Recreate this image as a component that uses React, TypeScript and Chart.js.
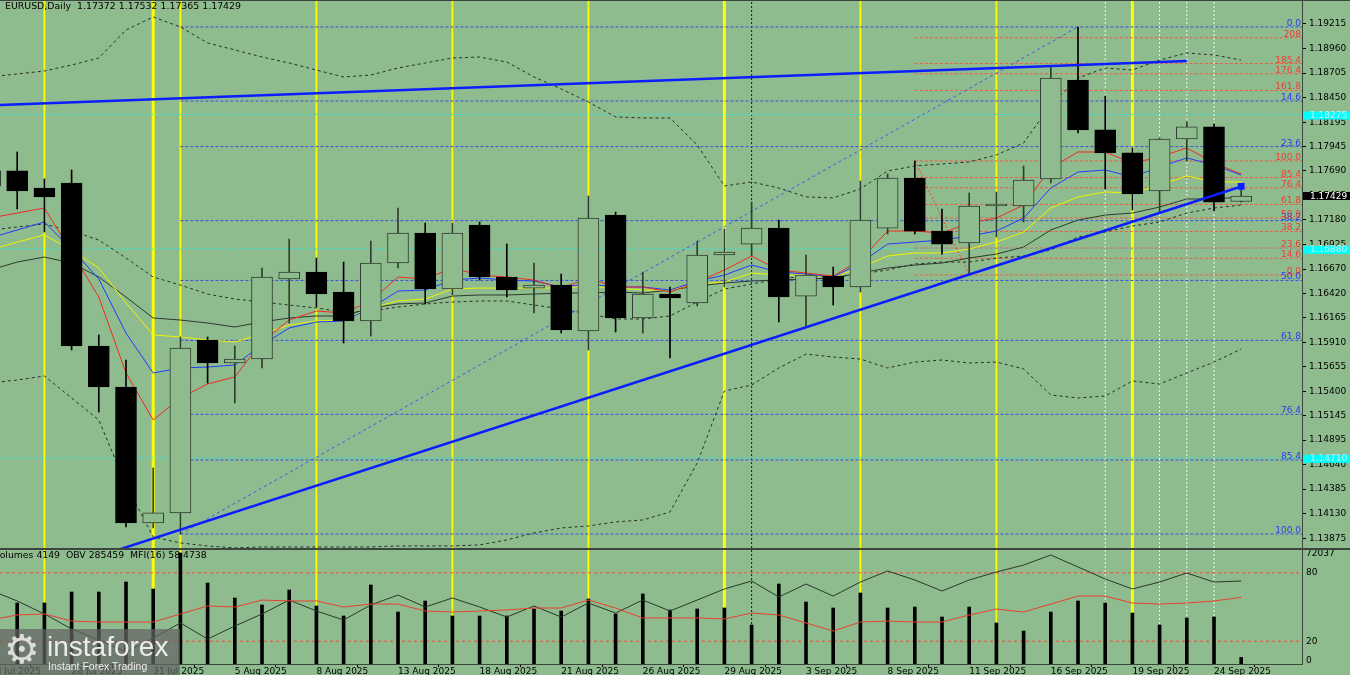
import { useEffect, useRef } from 'react';
import { Chart, registerables } from 'chart.js';

Chart.register(...registerables);

// ---------- data ----------
const dates = [
  '23 Jul 2025', '24 Jul 2025', '25 Jul 2025', '28 Jul 2025', '29 Jul 2025', '30 Jul 2025', '31 Jul 2025',
  '1 Aug 2025', '4 Aug 2025', '5 Aug 2025', '6 Aug 2025', '7 Aug 2025', '8 Aug 2025', '11 Aug 2025',
  '12 Aug 2025', '13 Aug 2025', '14 Aug 2025', '15 Aug 2025', '18 Aug 2025', '19 Aug 2025', '20 Aug 2025',
  '21 Aug 2025', '22 Aug 2025', '25 Aug 2025', '26 Aug 2025', '27 Aug 2025', '28 Aug 2025', '29 Aug 2025',
  '1 Sep 2025', '2 Sep 2025', '3 Sep 2025', '4 Sep 2025', '5 Sep 2025', '8 Sep 2025', '9 Sep 2025',
  '10 Sep 2025', '11 Sep 2025', '12 Sep 2025', '15 Sep 2025', '16 Sep 2025', '17 Sep 2025', '18 Sep 2025',
  '19 Sep 2025', '22 Sep 2025', '23 Sep 2025', '24 Sep 2025', '25 Sep 2025',
];

const opens = [
  1.17689, 1.17689, 1.17512, 1.17564, 1.15871, 1.15446, 1.14034, 1.14138, 1.15934, 1.15695,
  1.15736, 1.16567, 1.16639, 1.16432, 1.16131, 1.16733, 1.17044, 1.16463, 1.17127, 1.16588,
  1.16473, 1.16504, 1.16027, 1.17231, 1.16162, 1.16411, 1.16318, 1.16816, 1.16930, 1.17096,
  1.16390, 1.16598, 1.16484, 1.17096, 1.17616, 1.17065, 1.16941, 1.17325, 1.17325, 1.17606,
  1.18633, 1.18115, 1.17876, 1.17481, 1.18021, 1.18146, 1.17372,
];
const highs = [
  1.17751, 1.17886, 1.17606, 1.17699, 1.15986, 1.15726, 1.14605, 1.15965, 1.15965, 1.15871,
  1.16681, 1.16982, 1.16785, 1.16743, 1.16961, 1.17304, 1.17148, 1.17148, 1.17159, 1.16930,
  1.16733, 1.16619, 1.17429, 1.17262, 1.16639, 1.16484, 1.16961, 1.17086, 1.17366, 1.17179,
  1.16816, 1.16691, 1.17585, 1.17658, 1.17793, 1.17294, 1.17460, 1.17471, 1.17741, 1.18779,
  1.19184, 1.18467, 1.17928, 1.18030, 1.18198, 1.18177, 1.17532,
];
const lows = [
  1.17492, 1.17294, 1.17055, 1.15830, 1.15186, 1.13993, 1.13982, 1.13919, 1.15487, 1.15280,
  1.15643, 1.16110, 1.16276, 1.15903, 1.15975, 1.16681, 1.16308, 1.16401, 1.16556, 1.16380,
  1.16214, 1.16006, 1.15830, 1.16017, 1.16006, 1.15747, 1.16287, 1.16484, 1.16806, 1.16121,
  1.16069, 1.16297, 1.16432, 1.17034, 1.17034, 1.16826, 1.16608, 1.17003, 1.17159, 1.17564,
  1.18083, 1.17502, 1.17283, 1.17252, 1.17793, 1.17273, 1.17365,
];
const closes = [
  1.17533, 1.17481, 1.17419, 1.15871, 1.15446, 1.14034, 1.14138, 1.15851, 1.15695, 1.15736,
  1.16588, 1.16639, 1.16411, 1.16131, 1.16733, 1.17044, 1.16463, 1.17044, 1.16588, 1.16453,
  1.16504, 1.16038, 1.17200, 1.16162, 1.16411, 1.16370, 1.16816, 1.16847, 1.17096, 1.16380,
  1.16608, 1.16484, 1.17179, 1.17616, 1.17065, 1.16930, 1.17325, 1.17346, 1.17595, 1.18654,
  1.18115, 1.17876, 1.17450, 1.18021, 1.18146, 1.17366, 1.17429,
];

const maRed = [
  1.17200, 1.17252, 1.17304, 1.16847, 1.16380, 1.15591, 1.15103, 1.15332, 1.15477, 1.15550,
  1.15913, 1.16141, 1.16235, 1.16214, 1.16339, 1.16588, 1.16567, 1.16681, 1.16608, 1.16588,
  1.16556, 1.16473, 1.16577, 1.16484, 1.16484, 1.16432, 1.16536, 1.16660, 1.16806, 1.16660,
  1.16629, 1.16598, 1.16764, 1.17065, 1.17065, 1.17044, 1.17148, 1.17200, 1.17335, 1.17720,
  1.17886, 1.17886, 1.17772, 1.17834, 1.17928, 1.17772, 1.17658,
];
const maBlue = [
  1.16992, 1.17076, 1.17159, 1.16878, 1.16567, 1.16006, 1.15591, 1.15643, 1.15653, 1.15674,
  1.15882, 1.16058, 1.16121, 1.16131, 1.16266, 1.16442, 1.16453, 1.16556, 1.16577, 1.16556,
  1.16546, 1.16484, 1.16515, 1.16484, 1.16484, 1.16453, 1.16546, 1.16608, 1.16712, 1.16639,
  1.16619, 1.16588, 1.16733, 1.16930, 1.16951, 1.16972, 1.17013, 1.17065, 1.17200, 1.17512,
  1.17678, 1.17699, 1.17627, 1.17730, 1.17824, 1.17751, 1.17647,
];
const maYellow = [
  1.16868, 1.16951, 1.17024, 1.16868, 1.16681, 1.16318, 1.15986, 1.15965, 1.15934, 1.15913,
  1.15996, 1.16089, 1.16131, 1.16141, 1.16266, 1.16339, 1.16359, 1.16463, 1.16473, 1.16473,
  1.16473, 1.16473, 1.16494, 1.16473, 1.16453, 1.16453, 1.16515, 1.16536, 1.16629, 1.16608,
  1.16608, 1.16588, 1.16681, 1.16806, 1.16837, 1.16837, 1.16878, 1.16951, 1.17055, 1.17304,
  1.17419, 1.17471, 1.17460, 1.17543, 1.17637, 1.17575, 1.17575,
];
const maGray = [
  1.16660, 1.16743, 1.16795, 1.16733, 1.16588, 1.16380, 1.16162, 1.16141, 1.16110, 1.16069,
  1.16121, 1.16162, 1.16183, 1.16183, 1.16266, 1.16308, 1.16318, 1.16390, 1.16401, 1.16401,
  1.16411, 1.16421, 1.16421, 1.16432, 1.16421, 1.16453, 1.16494, 1.16525, 1.16546, 1.16556,
  1.16567, 1.16577, 1.16629, 1.16681, 1.16712, 1.16733, 1.16785, 1.16826, 1.16899, 1.17076,
  1.17179, 1.17231, 1.17252, 1.17314, 1.17398, 1.17398, 1.17419,
];
const bandUpper = [
  1.18665, 1.18696, 1.18727, 1.18789, 1.18862, 1.19153, 1.19288, 1.19184, 1.19018, 1.18945,
  1.18872, 1.18810, 1.18737, 1.18665, 1.18685, 1.18758, 1.18810, 1.18862, 1.18872, 1.18820,
  1.18665, 1.18540, 1.18405, 1.18250, 1.18239, 1.18239, 1.17959, 1.17533, 1.17575, 1.17512,
  1.17419, 1.17409, 1.17502, 1.17689, 1.17741, 1.17762, 1.17782, 1.17855, 1.17980, 1.18374,
  1.18654, 1.18758, 1.18737, 1.18841, 1.18914, 1.18893, 1.18841,
];
const bandMiddle = [
  1.17076, 1.17107, 1.17138, 1.17065, 1.16972, 1.16785, 1.16588, 1.16504, 1.16411, 1.16359,
  1.16328, 1.16297, 1.16266, 1.16224, 1.16235, 1.16276, 1.16308, 1.16328, 1.16339, 1.16339,
  1.16297, 1.16256, 1.16204, 1.16152, 1.16152, 1.16183, 1.16328, 1.16463, 1.16515, 1.16567,
  1.16598, 1.16588, 1.16619, 1.16660, 1.16723, 1.16743, 1.16743, 1.16785, 1.16806, 1.16868,
  1.17003, 1.17055, 1.17117, 1.17159, 1.17252, 1.17304, 1.17335,
];
const bandLower = [
  1.15487, 1.15518, 1.15560, 1.15332, 1.15103, 1.14428, 1.13889, 1.13827, 1.13795, 1.13775,
  1.13785, 1.13785, 1.13785, 1.13785, 1.13785, 1.13795, 1.13795, 1.13795, 1.13806, 1.13858,
  1.13930, 1.13982, 1.14003, 1.14045, 1.14065, 1.14148, 1.14657, 1.15404, 1.15466, 1.15643,
  1.15788, 1.15757, 1.15736, 1.15643, 1.15705, 1.15726, 1.15695, 1.15705, 1.15633, 1.15363,
  1.15332, 1.15352, 1.15508, 1.15477, 1.15591, 1.15705, 1.15840,
];

const volumes = [
  38000, 38550, 38550, 45500, 45500, 51820, 47400, 70150, 51190, 41710,
  37290, 46770, 36660, 30340, 49930, 32860, 39820, 30340, 30340, 30340,
  34760, 33500, 41080, 31600, 44240, 34130, 34760, 35390, 24650, 50560,
  39180, 35390, 44870, 35390, 36020, 29700, 36020, 25910, 20860, 32860,
  39820, 38550, 32230, 24650, 29070, 29700, 4149,
];
const obvLine = [
  64.9, 55.3, 43.9, 30.7, 21.1, 10.5, 22.8, 36.0, 21.9, 33.3,
  43.9, 56.1, 46.5, 38.6, 51.8, 60.5, 50.0, 57.9, 50.0, 41.2,
  50.9, 41.2, 53.5, 44.7, 56.1, 46.5, 56.1, 65.8, 72.8, 58.8,
  70.2, 59.6, 71.9, 81.6, 73.7, 64.0, 73.7, 80.7, 86.8, 95.6,
  85.1, 74.6, 65.8, 71.9, 79.8, 71.9, 72.8,
];
const mfiLine = [
  38.6, 43.0, 43.9, 37.7, 36.8, 36.8, 36.8, 43.9, 50.9, 50.0,
  56.1, 55.3, 55.3, 50.0, 52.6, 52.6, 46.5, 45.6, 46.5, 47.4,
  49.1, 49.1, 56.1, 49.1, 40.4, 40.4, 40.4, 39.5, 44.7, 43.0,
  36.0, 28.9, 36.8, 37.7, 36.8, 36.8, 43.0, 48.2, 45.6, 52.6,
  59.6, 59.6, 53.5, 52.6, 53.5, 55.3, 58.47,
];
const obvValue = 285459;
const mfiValue = 58.4738;

const priceTicks = [
  1.19215, 1.18960, 1.18705, 1.18450, 1.18195, 1.17945, 1.17690, 1.17435, 1.17180, 1.16925, 1.16670,
  1.16420, 1.16165, 1.15910, 1.15655, 1.15400, 1.15145, 1.14895, 1.14640, 1.14385, 1.14130, 1.13875,
];
const dateTickPositions = [0, 3, 6, 9, 12, 15, 18, 21, 24, 27, 30, 33, 36, 39, 42, 45];
const indicatorTicks = [2.6, 20, 80, 96.5];
const indicatorTickLabels = ['0', '20', '80', '72037'];
const indicatorLevels = [80, 20];

const blueFibLevels = [1.19184, 1.18415, 1.17942, 1.17173, 1.16552, 1.15930, 1.15162, 1.14688, 1.13919];
const blueFibLabels = ['0.0', '14.6', '23.6', '38.2', '50.0', '61.8', '76.4', '85.4', '100.0'];
const redFibLevels = [1.16609, 1.16782, 1.16888, 1.17061, 1.17201, 1.17341, 1.17514, 1.17620, 1.17793, 1.18525, 1.18698, 1.18804, 1.19072];
const redFibLabels = ['0.0', '14.6', '23.6', '38.2', '50.0', '61.8', '76.4', '85.4', '100.0', '161.8', '176.4', '185.4', '208'];
const blueFibStart = 7;
const redFibStart = 34;
const markedLevels = [1.18275, 1.16880, 1.14710];

const yellowThinAt = [2, 7, 12, 17, 22, 32, 37];
const yellowThickAt = [6, 27, 42];
const blackDottedAt = [28];
const whiteDottedAt = [41, 43, 44, 45];

const upperTrend = [{ x: 0, y: 1.18370 }, { x: 44, y: 1.18831 }];
const lowerTrend = [{ x: 4, y: 1.13690 }, { x: 46, y: 1.17528 }];
const blueFibDiagonal = [{ x: 7, y: 1.13919 }, { x: 40, y: 1.19184 }];
const redFibDiagonal = [{ x: 34, y: 1.17793 }, { x: 36, y: 1.16609 }];

// ---------- styling ----------
const BG = '#8fbc8f';
const FONT = 'DejaVu Sans';
const FRAME = '#3c463c';
const X_MIN = 0.3676;
const X_MAX = 48.2353;
const Y_MIN = 1.13774;
const Y_MAX = 1.19464;

Chart.defaults.font.family = FONT;
Chart.defaults.font.size = 9;
Chart.defaults.color = '#000';

const lineDs = (data: any[], color: string, width: number, order: number, dash: number[] = [], extra: any = {}) => ({
  type: 'line',
  data,
  borderColor: color,
  backgroundColor: color,
  borderWidth: width,
  borderDash: dash,
  pointRadius: 0,
  pointHitRadius: 0,
  pointHoverRadius: 0,
  tension: 0,
  fill: false,
  order,
  ...extra,
});
const seriesDs = (values: number[], color: string, width: number, order: number, dash: number[] = [], extra: any = {}) =>
  lineDs(values.map((v, p) => ({ x: p, y: v })), color, width, order, dash, extra);

const verticals = (lo: number, hi: number, extra: any = {}) => [
  ...yellowThinAt.map((p) => lineDs([{ x: p, y: lo }, { x: p, y: hi }], '#ffff00', 1.7, 20, [], extra)),
  ...yellowThickAt.map((p) => lineDs([{ x: p, y: lo }, { x: p, y: hi }], '#ffff00', 3, 20, [], extra)),
  ...blackDottedAt.map((p) => lineDs([{ x: p, y: lo }, { x: p, y: hi }], '#1a1a1a', 1, 20, [2, 2], extra)),
  ...whiteDottedAt.map((p) => lineDs([{ x: p, y: lo }, { x: p, y: hi }], '#f4f4f4', 1, 20, [2, 2], extra)),
];

const last = closes.length - 1;
const headerText = `EURUSD,Daily  ${opens[last].toFixed(5)} ${highs[last].toFixed(5)} ${lows[last].toFixed(5)} ${closes[last].toFixed(5)}`;
const indicatorHeader = `Volumes ${volumes[last]}  OBV ${obvValue}  MFI(16) ${mfiValue}`;

const priceOverlay = {
  id: 'priceOverlay',
  afterDatasetsDraw(chart: any) {
    const { ctx, chartArea, scales } = chart;
    const ys = scales.y;
    ctx.save();
    ctx.font = `9px "${FONT}"`;
    ctx.textAlign = 'right';
    ctx.textBaseline = 'alphabetic';
    blueFibLevels.forEach((lv, k) => {
      ctx.fillStyle = '#2a3cf0';
      ctx.fillText(blueFibLabels[k], chartArea.right - 1, ys.getPixelForValue(lv) - 1);
    });
    redFibLevels.forEach((lv, k) => {
      ctx.fillStyle = '#f03c32';
      ctx.fillText(redFibLabels[k], chartArea.right - 1, ys.getPixelForValue(lv) - 1);
    });
    ctx.textAlign = 'left';
    ctx.fillStyle = '#000';
    ctx.font = `9.4px "${FONT}"`;
    ctx.fillText(headerText, 5, 9);
    ctx.restore();
  },
  afterDraw(chart: any) {
    const { ctx, chartArea, scales } = chart;
    const ys = scales.y;
    ctx.save();
    ctx.font = `9px "${FONT}"`;
    ctx.textAlign = 'left';
    ctx.textBaseline = 'middle';
    markedLevels.forEach((lv) => {
      const py = ys.getPixelForValue(lv);
      ctx.fillStyle = '#00ffff';
      ctx.fillRect(chartArea.right + 1, py - 3, 48, 8);
      ctx.fillStyle = '#c4f2f2';
      ctx.fillText(lv.toFixed(5), chartArea.right + 8, py + 1);
    });
    const cp = ys.getPixelForValue(closes[last]);
    ctx.fillStyle = '#000';
    ctx.fillRect(chartArea.right + 1, cp - 4, 48, 8);
    ctx.fillStyle = '#fff';
    ctx.fillText(closes[last].toFixed(5), chartArea.right + 8, cp + 0.5);
    ctx.restore();
  },
};

const indicatorOverlay = {
  id: 'indicatorOverlay',
  afterDatasetsDraw(chart: any) {
    const { ctx } = chart;
    ctx.save();
    ctx.font = `9.3px "${FONT}"`;
    ctx.textAlign = 'left';
    ctx.textBaseline = 'alphabetic';
    ctx.fillStyle = '#000';
    ctx.fillText(indicatorHeader, -6, 8);
    ctx.restore();
  },
};

function buildPriceChart(canvas: HTMLCanvasElement) {
  const bull = closes.map((c, p) => c >= opens[p]);
  const datasets: any[] = [
    ...verticals(Y_MIN, Y_MAX),
    ...markedLevels.map((lv) => lineDs([{ x: X_MIN, y: lv }, { x: X_MAX, y: lv }], '#3fe0d0', 1, 15, [3, 2])),
    ...blueFibLevels.map((lv) => lineDs([{ x: blueFibStart, y: lv }, { x: X_MAX, y: lv }], '#3a4fe0', 1, 14, [3, 2])),
    ...redFibLevels.map((lv) => lineDs([{ x: redFibStart, y: lv }, { x: X_MAX, y: lv }], '#ee5a46', 1, 14, [3, 2])),
    lineDs(blueFibDiagonal, '#3a5ae6', 1, 13, [3, 3]),
    lineDs(redFibDiagonal, '#ff3a2a', 1, 13, [2, 2]),
    seriesDs(bandUpper, '#263026', 1, 12, [3, 3]),
    seriesDs(bandMiddle, '#263026', 1, 12, [3, 3]),
    seriesDs(bandLower, '#263026', 1, 12, [3, 3]),
    seriesDs(maGray, '#2e3a2e', 1, 11),
    seriesDs(maYellow, '#f2f200', 1, 10),
    seriesDs(maBlue, '#1f3cff', 1, 9),
    seriesDs(maRed, '#f02a22', 1, 8),
    {
      type: 'bar',
      data: lows.map((l, p) => ({ x: p, y: [l, highs[p]] })),
      backgroundColor: bull.map((b) => (b ? '#2e3d2e' : '#000')),
      borderWidth: 0,
      barThickness: 1,
      grouped: false,
      order: 3,
    },
    {
      type: 'bar',
      data: opens.map((o, p) => ({ x: p, y: [o, closes[p]] })),
      backgroundColor: bull.map((b) => (b ? BG : '#000')),
      borderColor: bull.map((b) => (b ? '#2e3d2e' : '#000')),
      borderWidth: 1,
      borderSkipped: false,
      barThickness: 21,
      grouped: false,
      order: 2,
    },
    lineDs(upperTrend, '#0a1eff', 2.5, 1),
    lineDs(lowerTrend, '#0a1eff', 2.5, 0, [], {
      pointRadius: [0, 3],
      pointStyle: 'rect',
      pointBackgroundColor: '#0a1eff',
      pointBorderColor: '#0a1eff',
    }),
  ];
  return new Chart(canvas, {
    type: 'bar',
    data: { datasets },
    plugins: [priceOverlay],
    options: {
      animation: false,
      responsive: false,
      maintainAspectRatio: false,
      events: [],
      layout: { padding: 0, autoPadding: false },
      plugins: { legend: { display: false }, tooltip: { enabled: false } },
      scales: {
        x: { type: 'linear', min: X_MIN, max: X_MAX, display: false, offset: false, grid: { display: false } },
        y: {
          type: 'linear',
          position: 'right',
          min: Y_MIN,
          max: Y_MAX,
          afterBuildTicks: (s: any) => {
            s.ticks = priceTicks.map((v) => ({ value: v }));
          },
          afterFit: (s: any) => {
            s.width = 48;
            s.paddingTop = 0;
            s.paddingBottom = 0;
          },
          ticks: {
            autoSkip: false,
            padding: 3,
            color: '#000',
            font: { family: FONT, size: 9 },
            callback: (v: any) => Number(v).toFixed(5),
          },
          grid: { drawOnChartArea: false, drawTicks: true, tickLength: 4, color: '#000' },
          border: { display: true, color: FRAME, width: 1 },
        },
      },
    } as any,
  } as any);
}

function buildIndicatorChart(canvas: HTMLCanvasElement) {
  const datasets: any[] = [
    ...verticals(0, 100),
    ...indicatorLevels.map((lv) => lineDs([{ x: X_MIN, y: lv }, { x: X_MAX, y: lv }], '#e8503e', 1, 15, [3, 3])),
    {
      type: 'bar',
      yAxisID: 'yv',
      data: volumes.map((v, p) => ({ x: p, y: v })),
      backgroundColor: '#000',
      borderWidth: 0,
      barThickness: 3,
      grouped: false,
      order: 5,
    },
    seriesDs(obvLine, '#2a382a', 1, 2),
    seriesDs(mfiLine, '#e8402e', 1, 1),
  ];
  return new Chart(canvas, {
    type: 'bar',
    data: { datasets },
    plugins: [indicatorOverlay],
    options: {
      animation: false,
      responsive: false,
      maintainAspectRatio: false,
      events: [],
      layout: { padding: 0, autoPadding: false },
      plugins: { legend: { display: false }, tooltip: { enabled: false } },
      scales: {
        x: {
          type: 'linear',
          min: X_MIN,
          max: X_MAX,
          offset: false,
          position: 'bottom',
          afterBuildTicks: (s: any) => {
            s.ticks = dateTickPositions.map((v) => ({ value: v }));
          },
          afterFit: (s: any) => {
            s.height = 11;
            s.paddingLeft = 0;
            s.paddingRight = 0;
          },
          ticks: {
            align: 'start',
            autoSkip: false,
            maxRotation: 0,
            minRotation: 0,
            padding: 0,
            color: '#000',
            font: { family: FONT, size: 9, lineHeight: 1 },
            callback: (v: any) => dates[Math.round(Number(v))],
          },
          grid: { drawOnChartArea: false, drawTicks: true, tickLength: 3, color: '#000' },
          border: { display: true, color: FRAME, width: 1 },
        },
        y: {
          type: 'linear',
          position: 'right',
          min: 0,
          max: 100,
          afterBuildTicks: (s: any) => {
            s.ticks = indicatorTicks.map((v) => ({ value: v }));
          },
          afterFit: (s: any) => {
            s.width = 48;
            s.paddingTop = 0;
            s.paddingBottom = 0;
          },
          ticks: {
            autoSkip: false,
            padding: 4,
            color: '#000',
            font: { family: FONT, size: 9 },
            callback: (_v: any, i: number) => indicatorTickLabels[i],
          },
          grid: { drawOnChartArea: false, drawTicks: false },
          border: { display: true, color: FRAME, width: 1 },
        },
        yv: { type: 'linear', display: false, min: 0, max: 72037 },
      },
    } as any,
  } as any);
}

export default function App() {
  const refA = useRef<HTMLCanvasElement>(null);
  const refB = useRef<HTMLCanvasElement>(null);

  useEffect(() => {
    document.body.style.margin = '0';
    document.body.style.background = BG;
    const a = buildPriceChart(refA.current as HTMLCanvasElement);
    const b = buildIndicatorChart(refB.current as HTMLCanvasElement);
    return () => {
      a.destroy();
      b.destroy();
    };
  }, []);

  return (
    <div style={{ position: 'relative', width: 1350, height: 675, background: BG, overflow: 'hidden' }}>
      <canvas ref={refA} width={1350} height={548} style={{ position: 'absolute', left: 0, top: 0, display: 'block' }} />
      <div style={{ position: 'absolute', left: 0, top: 548, width: 1350, height: 2, background: FRAME }} />
      <canvas ref={refB} width={1350} height={125} style={{ position: 'absolute', left: 0, top: 550, display: 'block' }} />
      <div style={{ position: 'absolute', left: 0, top: 0, width: 1350, height: 1, background: FRAME }} />
      <div
        style={{
          position: 'absolute',
          left: 0,
          top: 629,
          width: 180,
          height: 46,
          background: 'rgba(100,100,100,0.72)',
          fontFamily: '"Liberation Sans", sans-serif',
          color: '#ececec',
          overflow: 'hidden',
        }}
      >
        <span style={{ position: 'absolute', left: 4, top: -4, fontSize: 40, lineHeight: '48px', fontFamily: FONT, color: '#dcdcdc' }}>⚙</span>
        <span style={{ position: 'absolute', left: 47, top: 4, fontSize: 28, lineHeight: '28px', letterSpacing: 0 }}>instaforex</span>
        <span style={{ position: 'absolute', left: 48, top: 32, fontSize: 10.5, lineHeight: '11px' }}>Instant Forex Trading</span>
      </div>
    </div>
  );
}
